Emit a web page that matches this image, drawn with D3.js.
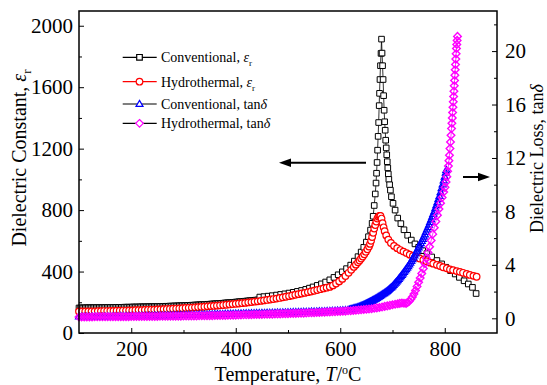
<!DOCTYPE html>
<html>
<head>
<meta charset="utf-8">
<script src="https://cdn.jsdelivr.net/npm/d3@7"></script>
<style>
  body { margin: 0; background: #fff; }
  svg { display: block; }
  text { font-family: "Liberation Serif", "Times New Roman", serif; }
</style>
</head>
<body>
<svg id="chart" width="547" height="385"></svg>
<script>
// ---- data: [temperature (°C), value] ----
// Conventional sample, dielectric constant
const convEps = [
  [100,163],[103,163],[106,163],[109,163],[112,164],[115,164],[118,164],[121,164],[124,164],[127,164],
  [130,165],[133,165],[136,165],[139,165],[142,165],[145,165],[148,165],[151,166],[154,166],[157,166],
  [160,166],[163,166],[166,166],[169,167],[172,167],[175,167],[178,167],[181,167],[184,167],[187,168],
  [190,168],[193,168],[196,168],[199,168],[202,169],[205,169],[208,169],[211,169],[214,169],[217,170],
  [220,170],[223,170],[226,170],[229,170],[232,171],[235,171],[238,171],[241,171],[244,172],[247,172],
  [250,172],[253,172],[256,173],[259,173],[262,173],[265,174],[268,174],[271,174],[274,175],[277,175],
  [280,175],[283,176],[286,176],[289,176],[292,177],[295,177],[298,178],[301,178],[304,179],[307,179],
  [310,180],[313,180],[316,181],[319,181],[322,182],[325,182],[328,183],[331,183],[334,184],[337,185],
  [340,185],[343,186],[346,187],[349,187],[352,188],[355,189],[358,189],[361,190],[364,191],[367,192],
  [370,192],[373,193],[376,194],[379,195],[382,196],[385,196],[388,197],[391,198],[394,199],[397,200],
  [400,201],[403,202],[406,203],[409,204],[412,205],[415,206],[418,207],[421,208],[424,209],[427,210],
  [430,211],[433,212],[436,213],[439,214],[442,215],
  [446,234],[454,237],[462,240],[470,243],[478,247],[486,251],[494,255],[502,260],[510,265],[518,271],
  [526,277],[534,284],[541,292],[548,300],[556,310],[564,320],[572,332],[580,346],[588,362],[596,379],
  [604,398],[612,419],[620,442],[627,468],[634,497],[640,527],[645,558],[650,592],[654,627],[658,670],
  [661,714],[663,760],[665,830],[667,905],[668.5,976],[669.5,1040],[670.5,1110],[671.5,1190],[672.5,1280],
  [673.5,1370],[674.5,1480],[675.2,1560],[676,1650],[677,1740],[678,1820],[679,1913],
  [680,1822],[681,1740],[682,1650],[683,1545],[684,1450],[685,1375],[686,1320],[687,1255],[688,1205],
  [689,1160],[690,1115],[691,1075],[692,1035],[693,1000],[694.5,965],[696,930],[698,887],[701,844],
  [705,800],[710,748],[716,712],[722,672],[729,636],[736,605],[743,580],[750,558],[758,536],[766,517],
  [775,495],[785,472],[794,450],[802,428],[811,406],[820,384],[828,362],[837,340],[845,319],[853,297],
  [860,257]
];

// Hydrothermal sample, dielectric constant
const hydroEps = [
  [100,140],[106,140],[112,140],[118,141],[124,141],[130,141],[136,142],[142,142],[148,143],[154,143],
  [160,144],[166,144],[172,145],[178,145],[184,146],[190,146],[196,147],[202,147],[208,148],[214,149],
  [220,149],[226,150],[232,151],[238,152],[244,152],[250,153],[256,154],[262,155],[268,156],[274,157],
  [280,158],[286,159],[292,160],[298,161],[304,163],[310,164],[316,165],[322,167],[328,168],[334,170],
  [340,171],[346,173],[352,175],[358,176],[364,178],[370,180],[376,182],[382,184],[388,186],[394,188],
  [400,190],[406,192],[412,194],[418,196],[424,199],[430,201],[436,204],[442,206],[448,209],[454,212],
  [460,215],[466,218],[472,221],[478,224],[484,228],[490,232],[496,236],[502,240],[508,244],[514,249],
  [520,253],[526,257],[532,261],[538,266],[544,270],[550,275],[556,280],[562,285],[568,290],[574,295],
  [580,300],[586,310],[592,322],[598,336],[604,352],[610,371],[616,392],[621,411],[626,430],[630,445],
  [634,460],[637,472],[640,485],[643,498],[646,512],[649,528],[652,545],[655,563],[657,580],[659,600],
  [661,625],[663,652],[665,680],[667,703],[669,725],[671,745],[673,757],[675,763],[677,762],[679,745],
  [681,715],[683,688],[685,663],[688,635],[692,608],[697,586],[703,567],[709,552],[715,540],[721,530],
  [727,520],[733,510],[739,502],[746,493],[752,485],[759,476],[765,467],[772,458],[778,451],[785,443],
  [791,436],[797,428],[804,421],[810,414],[816,409],[823,403],[829,398],[835,392],[842,385],[848,378],
  [855,372],[861,366]
];

// Conventional sample, loss tangent
const convTan = [
  [100,.13],[105,.13],[110,.13],[115,.13],[120,.13],[125,.13],[130,.14],[135,.14],[140,.14],[145,.14],
  [150,.14],[155,.15],[160,.15],[165,.15],[170,.15],[175,.15],[180,.16],[185,.16],[190,.16],[195,.16],
  [200,.17],[205,.17],[210,.17],[215,.18],[220,.18],[225,.18],[230,.19],[235,.19],[240,.19],[245,.20],
  [250,.20],[255,.21],[260,.21],[265,.21],[270,.22],[275,.22],[280,.23],[285,.23],[290,.24],[295,.24],
  [300,.25],[305,.25],[310,.26],[315,.26],[320,.27],[325,.27],[330,.28],[335,.28],[340,.29],[345,.29],
  [350,.30],[355,.30],[360,.31],[365,.31],[370,.32],[375,.32],[380,.33],[385,.33],[390,.34],[395,.34],
  [400,.35],[405,.35],[410,.36],[415,.36],[420,.37],[425,.37],[430,.38],[435,.38],[440,.39],[445,.39],
  [450,.40],[455,.40],[460,.41],[465,.41],[470,.42],[475,.42],[480,.43],[485,.43],[490,.44],[495,.44],
  [500,.45],[505,.45],[510,.46],[515,.46],[520,.47],[525,.47],[530,.48],[535,.48],[540,.49],[545,.50],
  [550,.50],[555,.51],[560,.52],[565,.52],[570,.53],[575,.54],[580,.55],[585,.56],[590,.57],[595,.58],
  [600,.59],[605,.60],[610,.61],[615,.63],
  [618,.65],[620,.68],[622,.70],[624,.72],[626,.74],[628,.76],[630,.78],[632,.81],[634,.84],[636,.87],
  [638,.90],[640,.93],[642,.96],[644,.99],[646,1.03],[648,1.06],[650,1.10],[652,1.14],[654,1.18],[656,1.22],
  [658,1.26],[660,1.30],[662,1.34],[664,1.38],[666,1.43],[668,1.47],[670,1.52],[672,1.57],[674,1.62],[676,1.67],
  [678,1.72],[680,1.78],[682,1.83],[684,1.88],[686,1.94],[688,1.99],[690,2.05],[692,2.12],[694,2.19],[696,2.26],
  [698,2.33],[700,2.40],[702,2.49],[704,2.58],[706,2.67],[708,2.76],[710,2.85],[712,2.95],[714,3.05],[716,3.15],
  [718,3.25],[720,3.35],[722,3.46],[724,3.57],[726,3.68],[728,3.79],[730,3.90],[732,4.03],[734,4.16],[736,4.29],
  [738,4.42],[740,4.55],[742,4.70],[744,4.85],[746,5.00],[748,5.15],[750,5.30],[752,5.46],[754,5.62],[756,5.78],
  [758,5.94],[760,6.10],[762,6.28],[764,6.46],[766,6.64],[768,6.82],[770,7.00],[772,7.20],[774,7.40],[776,7.60],
  [778,7.80],[780,8.00],[782,8.23],[784,8.46],[786,8.69],[788,8.92],[790,9.15],[792,9.44],[794,9.73],[796,10.02],
  [798,10.31],[800,10.60],[802,10.90],[803,11.10]
];

// Hydrothermal sample, loss tangent
const hydroTan = [
  [100,.10],[105,.10],[110,.10],[115,.10],[120,.10],[125,.10],[130,.11],[135,.11],[140,.11],[145,.11],
  [150,.11],[155,.11],[160,.11],[165,.12],[170,.12],[175,.12],[180,.12],[185,.12],[190,.12],[195,.12],
  [200,.13],[205,.13],[210,.13],[215,.13],[220,.13],[225,.13],[230,.14],[235,.14],[240,.14],[245,.14],
  [250,.14],[255,.15],[260,.15],[265,.15],[270,.15],[275,.15],[280,.16],[285,.16],[290,.16],[295,.16],
  [300,.17],[305,.17],[310,.17],[315,.18],[320,.18],[325,.18],[330,.19],[335,.19],[340,.19],[345,.20],
  [350,.20],[355,.20],[360,.21],[365,.21],[370,.22],[375,.22],[380,.22],[385,.23],[390,.23],[395,.24],
  [400,.24],[405,.25],[410,.25],[415,.26],[420,.26],[425,.27],[430,.27],[435,.28],[440,.28],[445,.29],
  [450,.29],[455,.30],[460,.30],[465,.31],[470,.31],[475,.32],[480,.33],[485,.33],[490,.34],[495,.35],
  [500,.35],[505,.36],[510,.37],[515,.37],[520,.38],[525,.39],[530,.39],[535,.40],[540,.41],[545,.42],
  [550,.42],[555,.43],[560,.44],[565,.45],[570,.46],[575,.47],[580,.48],[585,.49],[590,.50],[595,.51],
  [600,.52],[605,.53],[610,.54],[615,.56],[620,.57],[625,.59],[630,.60],[635,.62],[640,.64],[645,.66],
  [650,.68],[655,.70],[660,.72],[665,.75],[670,.78],[675,.81],[680,.85],[685,.89],[690,.93],[695,.97],
  [700,1.01],[705,1.05],[710,1.09],[714,1.12],[718,1.14],[722,1.13],[726,1.12],[729,1.18],[732,1.28],[735,1.42],
  [738,1.60],[741,1.82],[744,2.08],[747,2.38],[750,2.70],[753,3.02],[756,3.36],[759,3.72],[762,4.10],[765,4.50],
  [768,4.92],[771,5.36],[774,5.82],[777,6.30],[780,6.78],[783,7.25],[786,7.72],[789,8.18],[792,8.62],[795,9.04],
  [798,9.45],[800.5,9.8],[802.5,10.2],[804,10.6],[805.5,11.0],[807,11.4],[808,11.8],[809,12.2],[810,12.7],[811,13.2],
  [812,13.7],[813,14.2],[813.7,14.6],[814.4,15.0],[815,15.4],[815.7,15.8],[816.3,16.2],[817,16.6],[817.6,17.0],[818.2,17.4],
  [818.8,17.8],[819.4,18.2],[820,18.6],[820.6,19.0],[821.2,19.4],[821.8,19.8],[822.4,20.2],[823,20.5],[823.7,20.8],[824.4,21.1]
];

// axis ticks
const tempTicks = [200, 400, 600, 800];
const tempMinor = [300, 500, 700];
const epsTicks = [0, 400, 800, 1200, 1600, 2000];
const epsMinor = [200, 600, 1000, 1400, 1800];
const tanTicks = [0, 4, 8, 12, 16, 20];
const tanMinor = [2, 6, 10, 14, 18, 22];

// legend entries
const seriesNames = ["Conventional, ", "Hydrothermal, ", "Conventional, tan", "Hydrothermal, tan"];

// ---- layout ----
const svg = d3.select("#chart");
const L = 79, R = 497, T = 11, B = 333;

const x = d3.scaleLinear().domain([100, 900]).range([L, R]);
const yEps = d3.scaleLinear().domain([0, 2096]).range([B, T]);
const yTan = d3.scaleLinear().domain([-1.1, 23]).range([B, T]);

// marker shapes
const shapes = {
  square: "M-2.8,-2.8h5.6v5.6h-5.6Z",
  circle: "M3.3,0A3.3,3.3 0 1 1 -3.3,0A3.3,3.3 0 1 1 3.3,0Z",
  triangle: "M0,-3.6L3.5,2.4L-3.5,2.4Z",
  diamond: "M0,-3.8L3.8,0L0,3.8L-3.8,0Z"
};

// the loss-tangent curves are sampled so densely that their open symbols merge into bands
const series = [
  { data: convEps, y: yEps, color: "#000000", line: "#000000", plotLine: "#000000", shape: "square", sw: 1.0, fill: "#fff" },
  { data: hydroEps, y: yEps, color: "#ff0000", line: "#ff0000", plotLine: "#ff0000", shape: "circle", sw: 1.2, fill: "#fff" },
  { data: convTan, y: yTan, color: "#0000ff", line: "#000000", plotLine: "#0000ff", shape: "triangle", sw: 1.2, fill: "none" },
  { data: hydroTan, y: yTan, color: "#ff00ff", line: "#000000", plotLine: "#ff00ff", shape: "diamond", sw: 1.4, fill: "none" }
];

const plot = svg.append("g");
series.forEach(s => {
  const line = d3.line().x(d => x(d[0])).y(d => s.y(d[1]));
  plot.append("path")
    .attr("d", line(s.data))
    .attr("fill", "none")
    .attr("stroke", s.plotLine)
    .attr("stroke-width", 0.8);
  plot.append("g").selectAll("path")
    .data(s.data)
    .join("path")
    .attr("transform", d => `translate(${x(d[0])},${s.y(d[1])})`)
    .attr("d", shapes[s.shape])
    .attr("fill", s.fill)
    .attr("stroke", s.color)
    .attr("stroke-width", s.sw);
});

// ---- axes (ticks point inward) ----
function styleAxis(g, size) {
  g.select(".domain").remove();
  g.selectAll("line").attr("stroke", "#000").attr("stroke-width", 1);
  g.selectAll("text")
    .attr("fill", "#000")
    .attr("font-family", '"Liberation Serif", "Times New Roman", serif')
    .attr("font-size", size);
}
const plain = d3.format("d");

svg.append("g").attr("transform", `translate(0,${B})`)
  .call(d3.axisBottom(x).tickValues(tempTicks).tickSize(-5).tickPadding(8).tickFormat(plain))
  .call(g => styleAxis(g, 21));
svg.append("g").attr("transform", `translate(0,${B})`)
  .call(d3.axisBottom(x).tickValues(tempMinor).tickSize(-3).tickFormat(""))
  .call(g => styleAxis(g, 21));

svg.append("g").attr("transform", `translate(${L},0)`)
  .call(d3.axisLeft(yEps).tickValues(epsTicks).tickSize(-5).tickPadding(6).tickFormat(plain))
  .call(g => styleAxis(g, 21));
svg.append("g").attr("transform", `translate(${L},0)`)
  .call(d3.axisLeft(yEps).tickValues(epsMinor).tickSize(-3).tickFormat(""))
  .call(g => styleAxis(g, 21));

svg.append("g").attr("transform", `translate(${R},0)`)
  .call(d3.axisRight(yTan).tickValues(tanTicks).tickSize(-5).tickPadding(8).tickFormat(plain))
  .call(g => styleAxis(g, 21));
svg.append("g").attr("transform", `translate(${R},0)`)
  .call(d3.axisRight(yTan).tickValues(tanMinor).tickSize(-3).tickFormat(""))
  .call(g => styleAxis(g, 21));

// frame
svg.append("rect")
  .attr("x", L).attr("y", T).attr("width", R - L).attr("height", B - T)
  .attr("fill", "none").attr("stroke", "#000").attr("stroke-width", 1.5);

// ---- axis titles ----
const xt = svg.append("text")
  .attr("x", (L + R) / 2).attr("y", 380.5)
  .attr("text-anchor", "middle").attr("font-size", 20);
xt.append("tspan").text("Temperature, ");
xt.append("tspan").attr("font-style", "italic").text("T");
xt.append("tspan").text("/");
xt.append("tspan").attr("font-size", 12).attr("dy", -7).text("o");
xt.append("tspan").attr("dy", 7).text("C");

const yl = svg.append("text")
  .attr("transform", "translate(26,158) rotate(-90)")
  .attr("text-anchor", "middle").attr("font-size", 20);
yl.append("tspan").text("Dielectric Constant, ");
yl.append("tspan").attr("font-style", "italic").text("ε");
yl.append("tspan").attr("font-size", 13).attr("dy", 5).text("r");

const yr = svg.append("text")
  .attr("transform", "translate(543,158.5) rotate(-90)")
  .attr("text-anchor", "middle").attr("font-size", 18);
yr.append("tspan").text("Dielectric Loss, tan");
yr.append("tspan").attr("font-style", "italic").text("δ");

// ---- arrows pointing to each series' axis ----
function arrow(x1, x2, y, dir) {
  const tip = dir < 0 ? x1 : x2;
  const base = tip - dir * 12;
  svg.append("line")
    .attr("x1", dir < 0 ? base : x1).attr("x2", dir < 0 ? x2 : base)
    .attr("y1", y).attr("y2", y)
    .attr("stroke", "#000").attr("stroke-width", 2);
  svg.append("path")
    .attr("d", `M${tip},${y}L${base},${y - 4.2}L${base},${y + 4.2}Z`)
    .attr("fill", "#000");
}
arrow(279, 366, 162.7, -1);
arrow(463, 490, 177, 1);

// ---- legend ----
const legY = [57.3, 81.7, 104, 123.3];
const legend = svg.append("g");
series.forEach((s, i) => {
  const y = legY[i];
  legend.append("line")
    .attr("x1", 122.7).attr("x2", 156.7).attr("y1", y).attr("y2", y)
    .attr("stroke", s.line).attr("stroke-width", 1.2);
  legend.append("path")
    .attr("transform", `translate(139.5,${y})`)
    .attr("d", shapes[s.shape])
    .attr("fill", "#fff").attr("stroke", s.color).attr("stroke-width", 1.2);
  const t = legend.append("text")
    .attr("x", 161).attr("y", y + 5).attr("font-size", 14);
  t.append("tspan").text(seriesNames[i]);
  if (i < 2) {
    t.append("tspan").attr("font-style", "italic").text("ε");
    t.append("tspan").attr("font-size", 9).attr("dy", 4).text("r");
  } else {
    t.append("tspan").attr("font-style", "italic").text("δ");
  }
});
</script>
</body>
</html>
